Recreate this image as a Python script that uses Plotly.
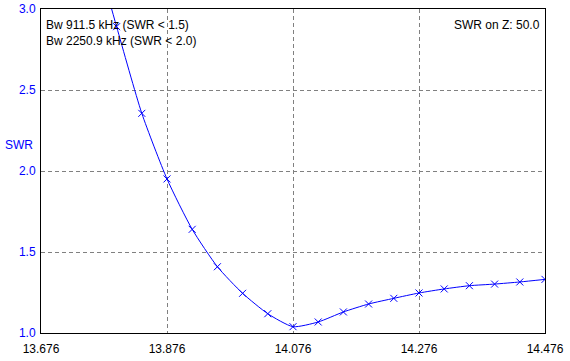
import plotly.graph_objects as go

freq = [13.756, 13.796, 13.836, 13.876, 13.916, 13.956, 13.996, 14.036, 14.076,
        14.116, 14.156, 14.196, 14.236, 14.276, 14.316, 14.356, 14.396, 14.436, 14.476]
swr = [3.45, 2.891, 2.356, 1.951, 1.640, 1.409, 1.245, 1.119, 1.039,
       1.068, 1.130, 1.179, 1.214, 1.247, 1.272, 1.292, 1.302, 1.315, 1.331]

x_ticks = [13.676, 13.876, 14.076, 14.276, 14.476]
x_tick_labels = ["13.676", "13.876", "14.076", "14.276", "14.476"]
y_ticks = [1.0, 1.5, 2.0, 2.5, 3.0]
y_tick_labels = ["1.0", "1.5", "2.0", "2.5", "3.0"]

font_family = "Liberation Sans, Arial, sans-serif"

fig = go.Figure()
fig.add_trace(go.Scatter(
    x=freq, y=swr, mode="lines+markers",
    line=dict(color="#0000FF", width=1, shape="spline", smoothing=0.6),
    marker=dict(symbol="x-thin", size=7, line=dict(color="#0000FF", width=1)),
    showlegend=False, hoverinfo="x+y",
))

fig.update_layout(
    template="none",
    width=570, height=361,
    margin=dict(l=41, r=25, t=9, b=28, pad=0),
    paper_bgcolor="white", plot_bgcolor="white",
    font=dict(family=font_family, size=12, color="black"),
    xaxis=dict(
        range=[13.676, 14.476], tickvals=x_ticks, ticktext=x_tick_labels,
        showgrid=True, gridcolor="#808080", griddash="4px,3px", gridwidth=1,
        showline=True, linecolor="black", linewidth=1, mirror=True,
        zeroline=False, ticks="outside", ticklen=5, tickcolor="rgba(0,0,0,0)",
        tickfont=dict(color="black", size=12), automargin=False,
    ),
    yaxis=dict(
        range=[1.0, 3.0], tickvals=y_ticks, ticktext=y_tick_labels,
        showgrid=True, gridcolor="#808080", griddash="4px,3px", gridwidth=1,
        showline=True, linecolor="black", linewidth=1, mirror=True,
        zeroline=False, ticks="outside", ticklen=2, tickcolor="rgba(0,0,0,0)",
        tickfont=dict(color="#0000FF", size=12), automargin=False,
    ),
    annotations=[
        dict(text="Bw 911.5 kHz (SWR < 1.5)", xref="paper", yref="paper",
             x=0.006, y=0.951, xanchor="left", yanchor="middle", showarrow=False,
             font=dict(size=12, color="black")),
        dict(text="Bw 2250.9 kHz (SWR < 2.0)", xref="paper", yref="paper",
             x=0.006, y=0.901, xanchor="left", yanchor="middle", showarrow=False,
             font=dict(size=12, color="black")),
        dict(text="SWR on Z: 50.0", xref="paper", yref="paper",
             x=0.994, y=0.951, xanchor="right", yanchor="middle", showarrow=False,
             font=dict(size=12, color="black")),
        dict(text="SWR", xref="paper", yref="paper",
             x=-0.075, y=0.579, xanchor="left", yanchor="middle", showarrow=False,
             font=dict(size=12, color="#0000FF")),
    ],
)

fig.write_html("out.html", config={"displayModeBar": False},
               post_script="document.body.style.margin='0';")
